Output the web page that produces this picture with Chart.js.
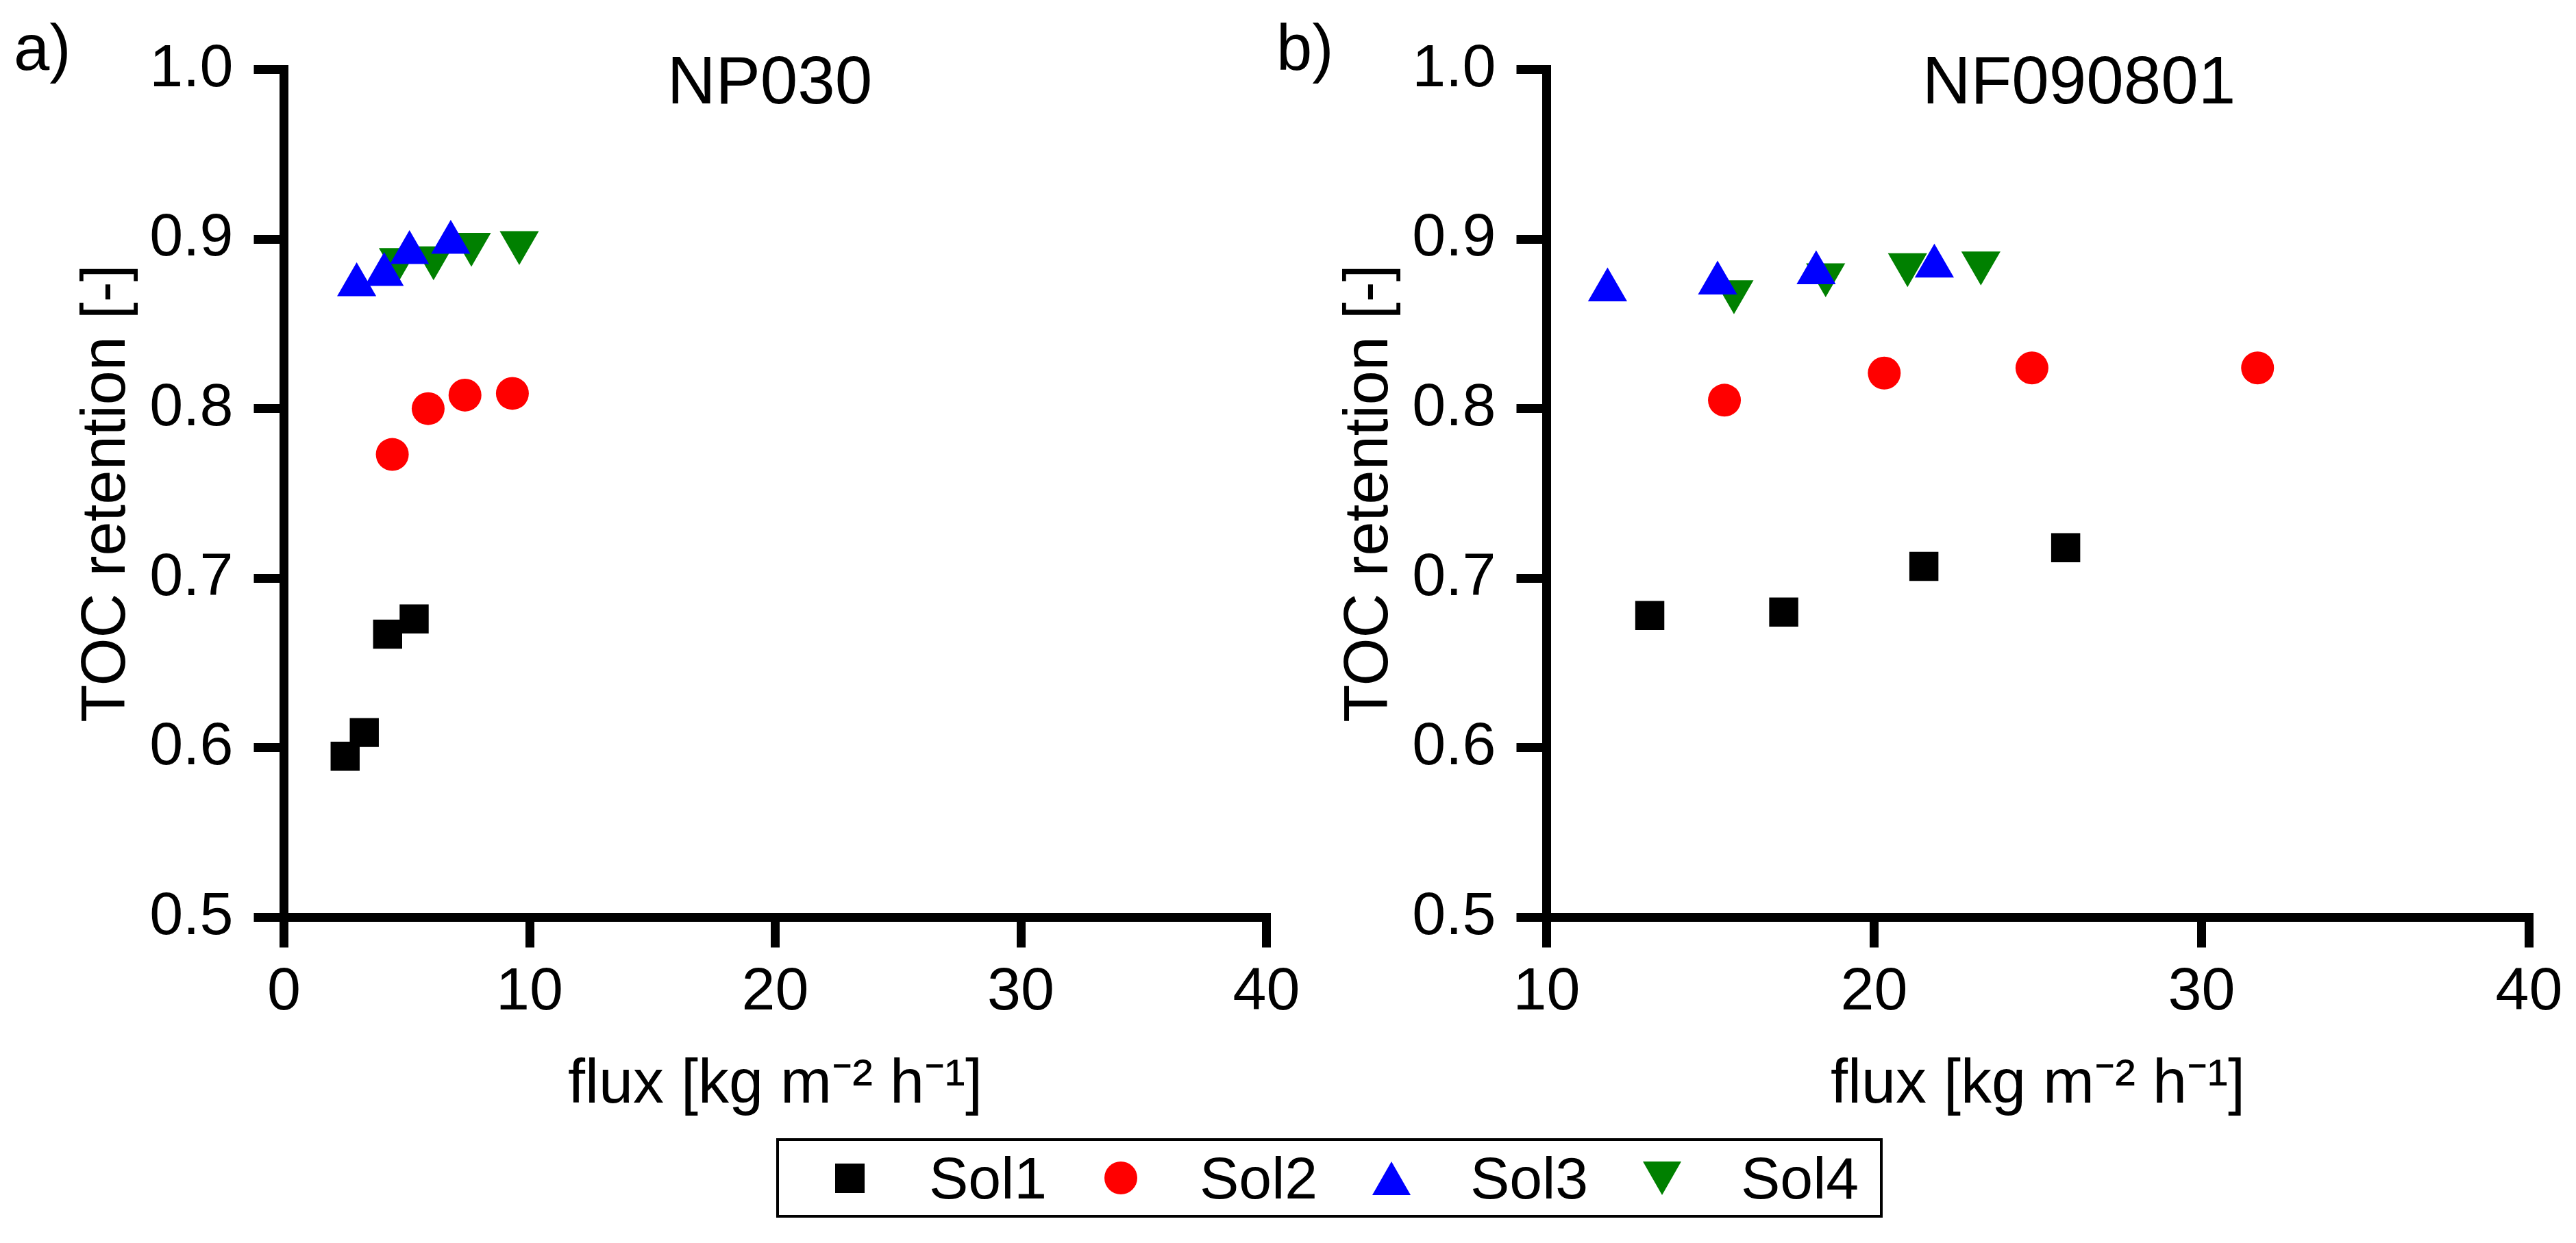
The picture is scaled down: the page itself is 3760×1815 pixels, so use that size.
<!DOCTYPE html>
<html lang="en">

<head>
    <meta charset="UTF-8">
    <title>TOC retention</title>
    <script src="https://cdn.jsdelivr.net/npm/chart.js@4.4.1/dist/chart.umd.min.js"></script>
    <style>
        html,
        body {
            margin: 0;
            background: #fff;
            font-family: "Liberation Sans", Arial, sans-serif;
        }

        #page {
            position: relative;
            width: 3760px;
            height: 1815px;
        }

        canvas {
            position: absolute;
            top: 0;
        }

        #legend {
            position: absolute;
            left: 1133px;
            top: 1662px;
            width: 1543.5px;
            height: 108px;
            border: 4px solid #000;
            display: flex;
            align-items: center;
            padding-left: 63.5px;
            box-sizing: content-box;
            font-size: 86px;
        }

        .item {
            display: flex;
            align-items: center;
        }

        .mk {
            width: 80px;
            display: flex;
            justify-content: center;
            margin-right: 75.5px;
        }

        .txt {
            width: 160px;
            margin-right: 79.5px;
        }

        .sq {
            width: 43px;
            height: 43px;
            background: #000;
        }

        .ci {
            width: 48px;
            height: 48px;
            border-radius: 50%;
            background: #f00;
        }

        .up {
            width: 0;
            height: 0;
            border-left: 28px solid transparent;
            border-right: 28px solid transparent;
            border-bottom: 49px solid #00f;
        }

        .dn {
            width: 0;
            height: 0;
            border-left: 28px solid transparent;
            border-right: 28px solid transparent;
            border-top: 49px solid #008000;
        }
    </style>
</head>

<body>
    <div id="page">
        <canvas id="chartA" width="1900" height="1650" style="left:0px"></canvas>
        <canvas id="chartB" width="1900" height="1650" style="left:1843px"></canvas>
        <div id="legend">
            <div class="item"><div class="mk"><div class="sq"></div></div><div class="txt">Sol1</div></div>
            <div class="item"><div class="mk"><div class="ci"></div></div><div class="txt">Sol2</div></div>
            <div class="item"><div class="mk"><div class="up"></div></div><div class="txt">Sol3</div></div>
            <div class="item"><div class="mk"><div class="dn"></div></div><div class="txt">Sol4</div></div>
        </div>
    </div>

    <script>
        // panel a) NP030
        const fluxA1 = [2.49, 3.27, 4.22, 5.30];
        const retA1 = [0.595, 0.609, 0.667, 0.676];
        const fluxA2 = [4.41, 5.87, 7.37, 9.30];
        const retA2 = [0.773, 0.800, 0.808, 0.809];
        const fluxA3 = [2.96, 4.08, 5.11, 6.79];
        const retA3 = [0.873, 0.879, 0.892, 0.898];
        const fluxA4 = [4.66, 6.09, 7.63, 9.58];
        const retA4 = [0.888, 0.889, 0.897, 0.898];

        // panel b) NF090801
        const fluxB1 = [13.15, 17.24, 21.52, 25.85];
        const retB1 = [0.678, 0.680, 0.707, 0.718];
        const fluxB2 = [15.43, 20.31, 24.82, 31.71];
        const retB2 = [0.805, 0.821, 0.824, 0.824];
        const fluxB3 = [11.86, 15.22, 18.23, 21.84];
        const retB3 = [0.870, 0.874, 0.880, 0.884];
        const fluxB4 = [15.72, 18.52, 21.02, 23.26];
        const retB4 = [0.869, 0.879, 0.885, 0.886];

        const seriesNames = ["Sol1", "Sol2", "Sol3", "Sol4"];
        const yTicks = [0.5, 0.6, 0.7, 0.8, 0.9, 1.0];

        const FONT = '"Liberation Sans", Arial, sans-serif';

        function pts(xs, ys) {
            return xs.map((x, i) => ({ x: x, y: ys[i] }));
        }

        // panel title inside the plot top + a)/b) letter
        const panelText = {
            id: 'panelText',
            afterDraw(chart, args, opts) {
                let ctx = chart.ctx;
                let area = chart.chartArea;
                ctx.save();
                ctx.fillStyle = '#000';
                ctx.font = '98px ' + FONT;
                ctx.textAlign = 'center';
                ctx.textBaseline = 'alphabetic';
                ctx.fillText(opts.title, (area.left + area.right) / 2 + opts.shift, area.top + 49.5);
                ctx.textAlign = 'left';
                ctx.font = '94px ' + FONT;
                ctx.fillText(opts.letter, 20, 102);
                ctx.restore();
            }
        };

        function makeChart(id, sets, xMin, title, letter, shift) {
            let styles = [
                { pointStyle: 'rect', pointRadius: 30, color: '#000000' },
                { pointStyle: 'circle', pointRadius: 24, color: '#ff0000' },
                { pointStyle: 'triangle', pointRadius: 33, color: '#0000ff' },
                { pointStyle: 'triangle', pointRadius: 33, color: '#008000', rotation: 180 }
            ];
            let datasets = sets.map((s, i) => ({
                label: seriesNames[i],
                data: pts(s[0], s[1]),
                pointStyle: styles[i].pointStyle,
                pointRadius: styles[i].pointRadius,
                pointRotation: styles[i].rotation || 0,
                backgroundColor: styles[i].color,
                borderColor: styles[i].color,
                borderWidth: 0,
                showLine: false,
                clip: false
            }));
            let tickFont = { family: FONT, size: 88 };
            let titleFont = { family: FONT, size: 90 };
            let gridOpts = { drawOnChartArea: false, drawTicks: true, tickLength: 44, tickWidth: 13, tickColor: '#000', lineWidth: 13, color: '#000' };
            return new Chart(document.getElementById(id), {
                type: 'scatter',
                data: { datasets: datasets },
                options: {
                    responsive: false,
                    animation: false,
                    devicePixelRatio: 1,
                    layout: { padding: { top: 101.5, right: 51.5, left: 0, bottom: 0 } },
                    plugins: {
                        legend: { display: false },
                        tooltip: { enabled: false },
                        panelText: { title: title, letter: letter, shift: shift }
                    },
                    scales: {
                        x: {
                            type: 'linear',
                            min: xMin,
                            max: 40,
                            ticks: { stepSize: 10, font: tickFont, color: '#000', padding: 13 },
                            grid: gridOpts,
                            border: { display: true, width: 13, color: '#000' },
                            title: { display: true, text: 'flux [kg m\u207B\u00B2 h\u207B\u00B9]', font: titleFont, color: '#000', padding: { top: 0, bottom: 11 } },
                            afterFit: function (s) {
                                s.height = 310.5;
                                s.paddingLeft = 0;
                                s.paddingRight = 0;
                            }
                        },
                        y: {
                            type: 'linear',
                            min: 0.5,
                            max: 1.0,
                            afterBuildTicks: function (s) { s.ticks = yTicks.map(v => ({ value: v })); },
                            ticks: { font: tickFont, color: '#000', padding: 30, callback: v => v.toFixed(1) },
                            grid: gridOpts,
                            border: { display: true, width: 13, color: '#000' },
                            title: { display: true, text: 'TOC retention [-]', font: titleFont, color: '#000', padding: { top: 103, bottom: 0 } },
                            afterFit: function (s) {
                                s.width = 414.5;
                                s.paddingTop = 0;
                                s.paddingBottom = 0;
                            }
                        }
                    }
                },
                plugins: [panelText]
            });
        }

        window.onload = function () {
            makeChart('chartA', [[fluxA1, retA1], [fluxA2, retA2], [fluxA3, retA3], [fluxA4, retA4]], 0, 'NP030', 'a)', -8);
            makeChart('chartB', [[fluxB1, retB1], [fluxB2, retB2], [fluxB3, retB3], [fluxB4, retB4]], 10, 'NF090801', 'b)', 60);
        };
    </script>
</body>

</html>
